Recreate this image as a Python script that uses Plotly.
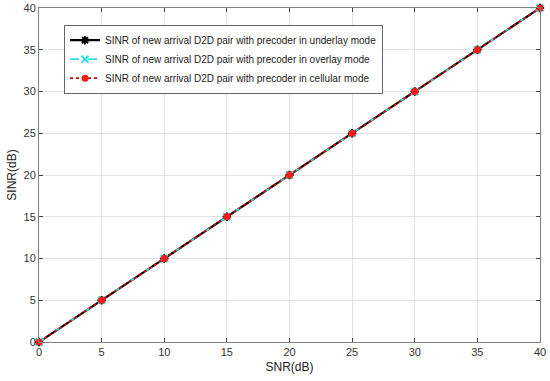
import plotly.graph_objects as go

snr_db = [0, 5, 10, 15, 20, 25, 30, 35, 40]
sinr_underlay = [0, 5, 10, 15, 20, 25, 30, 35, 40]
sinr_overlay = [0, 5, 10, 15, 20, 25, 30, 35, 40]
sinr_cellular = [0, 5, 10, 15, 20, 25, 30, 35, 40]
tick_vals = [0, 5, 10, 15, 20, 25, 30, 35, 40]

fig = go.Figure()
fig.add_trace(go.Scatter(
    x=snr_db, y=sinr_underlay, mode="lines+markers", cliponaxis=False,
    name="SINR of new arrival D2D pair with precoder in underlay mode",
    line=dict(color="black", width=2.2, dash="solid"),
    marker=dict(symbol="asterisk", size=7, color="black", line=dict(color="black", width=2)),
))
fig.add_trace(go.Scatter(
    x=snr_db, y=sinr_overlay, mode="lines+markers", cliponaxis=False,
    name="SINR of new arrival D2D pair with precoder in overlay mode",
    line=dict(color="#33e0e0", width=1.8, dash="dash"),
    marker=dict(symbol="x-thin", size=7, color="#33e0e0", line=dict(color="#33e0e0", width=2)),
))
fig.add_trace(go.Scatter(
    x=snr_db, y=sinr_cellular, mode="lines+markers", cliponaxis=False,
    name="SINR of new arrival D2D pair with precoder in cellular mode",
    line=dict(color="#cc0000", width=1.8, dash="dot"),
    marker=dict(symbol="circle", size=7, color="#ff1a1a"),
))

axis_common = dict(
    range=[0, 40], tickvals=tick_vals, ticks="inside", ticklen=4,
    tickcolor="#444", showline=True, linecolor="#808080", linewidth=1,
    mirror="ticks", showgrid=True, gridcolor="#e3e3e3", gridwidth=1,
    zeroline=False, tickfont=dict(size=11, color="#333"), automargin=False,
)
fig.update_xaxes(**axis_common, title=dict(text="SNR(dB)", font=dict(size=12, color="#222"), standoff=5))
fig.update_yaxes(**axis_common, title=dict(text="SINR(dB)", font=dict(size=12, color="#222"), standoff=4))

fig.update_layout(
    width=550, height=381,
    margin=dict(l=39, r=10, t=8, b=39, autoexpand=False),
    paper_bgcolor="white", plot_bgcolor="white",
    font=dict(family="Liberation Sans, Arial, sans-serif", color="#222"),
    showlegend=True,
    legend=dict(
        x=0.05, y=0.95, xanchor="left", yanchor="top",
        bgcolor="white", bordercolor="#666", borderwidth=1,
        font=dict(size=10, color="#222"), tracegroupgap=0,
        itemwidth=30,
    ),
)

fig.write_html(
    "out.html",
    config={"displayModeBar": False},
    post_script="document.body.style.margin='0';document.body.style.overflow='hidden';",
)
